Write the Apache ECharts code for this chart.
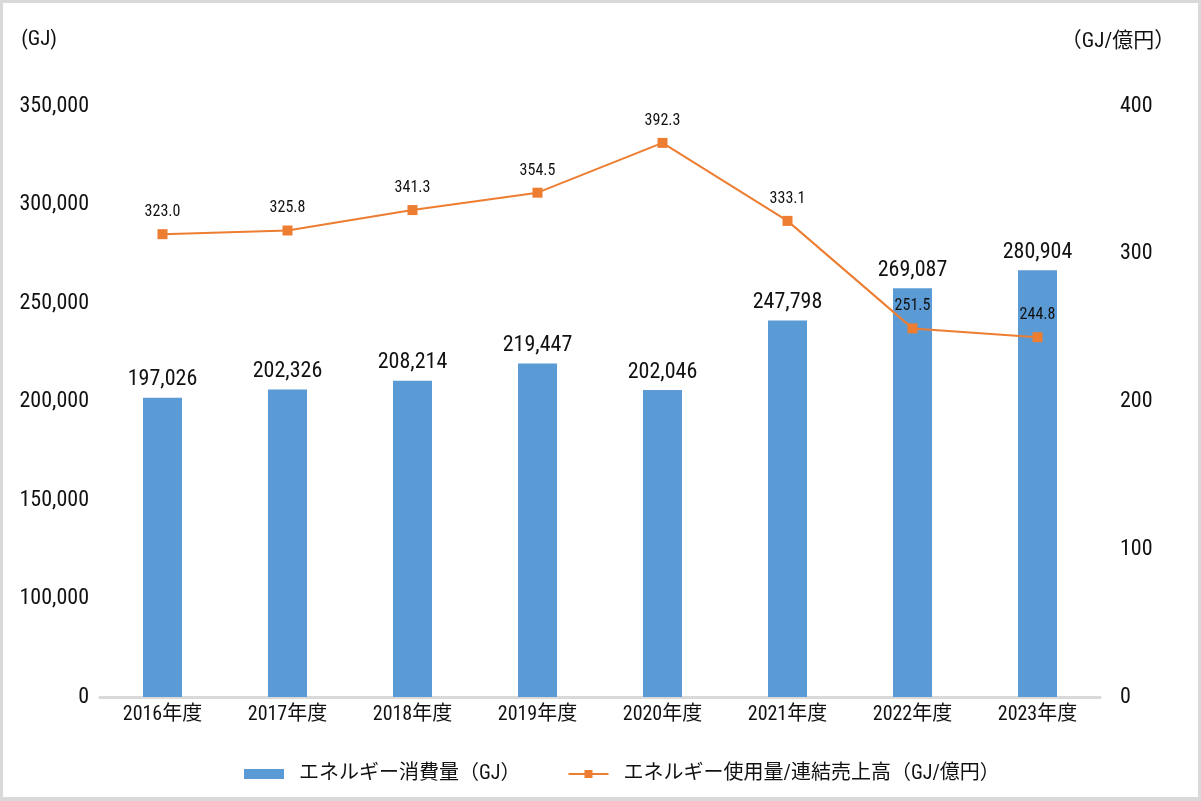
<!DOCTYPE html>
<html>
<head>
<meta charset="utf-8">
<script src="https://cdn.jsdelivr.net/npm/echarts@6/dist/echarts.min.js"></script>
<style>
html,body{margin:0;padding:0;background:#fff;}
#chart{position:absolute;left:0;top:0;width:1201px;height:801px;}
#frame{position:absolute;left:0;top:0;width:1201px;height:801px;box-sizing:border-box;border:3px solid #d9d9d9;border-bottom-width:4px;pointer-events:none;}
</style>
</head>
<body>
<div id="chart"></div>
<div id="frame"></div>
<script>
// ---- Data ----
const categories = ['2016年度','2017年度','2018年度','2019年度','2020年度','2021年度','2022年度','2023年度'];
const energyValues = [197026, 202326, 208214, 219447, 202046, 247798, 269087, 280904];        // GJ
const intensityValues = [323.0, 325.8, 341.3, 354.5, 392.3, 333.1, 251.5, 244.8];             // GJ/億円
// tick labels printed on the left axis (equally spaced in the picture)
const leftTickLabels = ['0', '100,000', '150,000', '200,000', '250,000', '300,000', '350,000'];
// right axis ticks
const rightTicks = {min: 0, max: 400, interval: 100};
// scales the marks are drawn on (fitted to the picture)
const barScale = {min: 0, max: 389000};
const lineScale = {min: -28.3, max: 420.3};
const seriesNames = ['エネルギー消費量（GJ）', 'エネルギー使用量/連結売上高（GJ/億円）'];

const NUM_FONT = "'Roboto Condensed','Liberation Sans Narrow','Noto Sans CJK JP',sans-serif";
const CJK_FONT = "'Roboto Condensed','Liberation Sans Narrow','Noto Sans CJK JP',sans-serif";
const TXT = '#111111';

const fmt = v => v.toLocaleString('en-US');

const chart = echarts.init(document.getElementById('chart'), null, {renderer: 'canvas'});
chart.setOption({
  animation: false,
  backgroundColor: '#ffffff',
  grid: {left: 100, right: 101, top: 106, bottom: 104, containLabel: false},
  legend: {
    left: 239, top: 759,
    itemWidth: 40, itemHeight: 10, itemGap: 47,
    textStyle: {fontFamily: CJK_FONT, fontSize: 20, color: TXT, padding: [0, 0, 0, 10]},
    data: [
      {name: seriesNames[0], icon: 'rect'},
      {name: seriesNames[1]}
    ]
  },
  xAxis: {
    type: 'category',
    data: categories,
    axisLine: {show: true, lineStyle: {color: '#d9d9d9', width: 3}},
    axisTick: {show: false},
    axisLabel: {color: TXT, fontFamily: CJK_FONT, fontSize: 20, margin: 8},
    splitLine: {show: false}
  },
  yAxis: [
    {
      type: 'value', position: 'left',
      min: 0, max: leftTickLabels.length - 1, interval: 1,
      name: '(GJ)', nameLocation: 'end', nameGap: 56,
      nameTextStyle: {fontFamily: NUM_FONT, fontSize: 21, color: TXT, align: 'right', padding: [0, 43, 0, 0]},
      axisLine: {show: false}, axisTick: {show: false}, splitLine: {show: false},
      axisLabel: {
        color: TXT, fontFamily: NUM_FONT, fontSize: 22, margin: 11,
        formatter: v => leftTickLabels[Math.round(v)]
      }
    },
    {
      type: 'value', position: 'right',
      min: rightTicks.min, max: rightTicks.max, interval: rightTicks.interval,
      name: '（GJ/億円）', nameLocation: 'end', nameGap: 54,
      nameTextStyle: {fontFamily: CJK_FONT, fontSize: 21, color: TXT, align: 'center', padding: [0, 0, 0, 36]},
      axisLine: {show: false}, axisTick: {show: false}, splitLine: {show: false},
      axisLabel: {color: TXT, fontFamily: NUM_FONT, fontSize: 22, margin: 20}
    },
    {
      type: 'value', position: 'left', show: false,
      min: barScale.min, max: barScale.max,
      splitLine: {show: false}
    },
    {
      type: 'value', position: 'right', show: false,
      min: lineScale.min, max: lineScale.max,
      splitLine: {show: false}
    }
  ],
  series: [
    {
      name: seriesNames[0],
      type: 'bar',
      yAxisIndex: 2,
      data: energyValues,
      barWidth: 39,
      itemStyle: {color: '#5b9bd5'},
      label: {
        show: true, position: 'top', distance: 7,
        color: TXT, fontFamily: NUM_FONT, fontSize: 22,
        formatter: p => fmt(p.value)
      },
      z: 2
    },
    {
      name: seriesNames[1],
      type: 'line',
      yAxisIndex: 3,
      data: intensityValues,
      symbol: 'rect', symbolSize: 10,
      lineStyle: {color: '#ed7d31', width: 2},
      itemStyle: {color: '#ed7d31'},
      label: {
        show: true, position: 'top', distance: 9,
        color: TXT, fontFamily: NUM_FONT, fontSize: 16,
        formatter: p => p.value.toFixed(1)
      },
      z: 3
    }
  ]
});
</script>
</body>
</html>
